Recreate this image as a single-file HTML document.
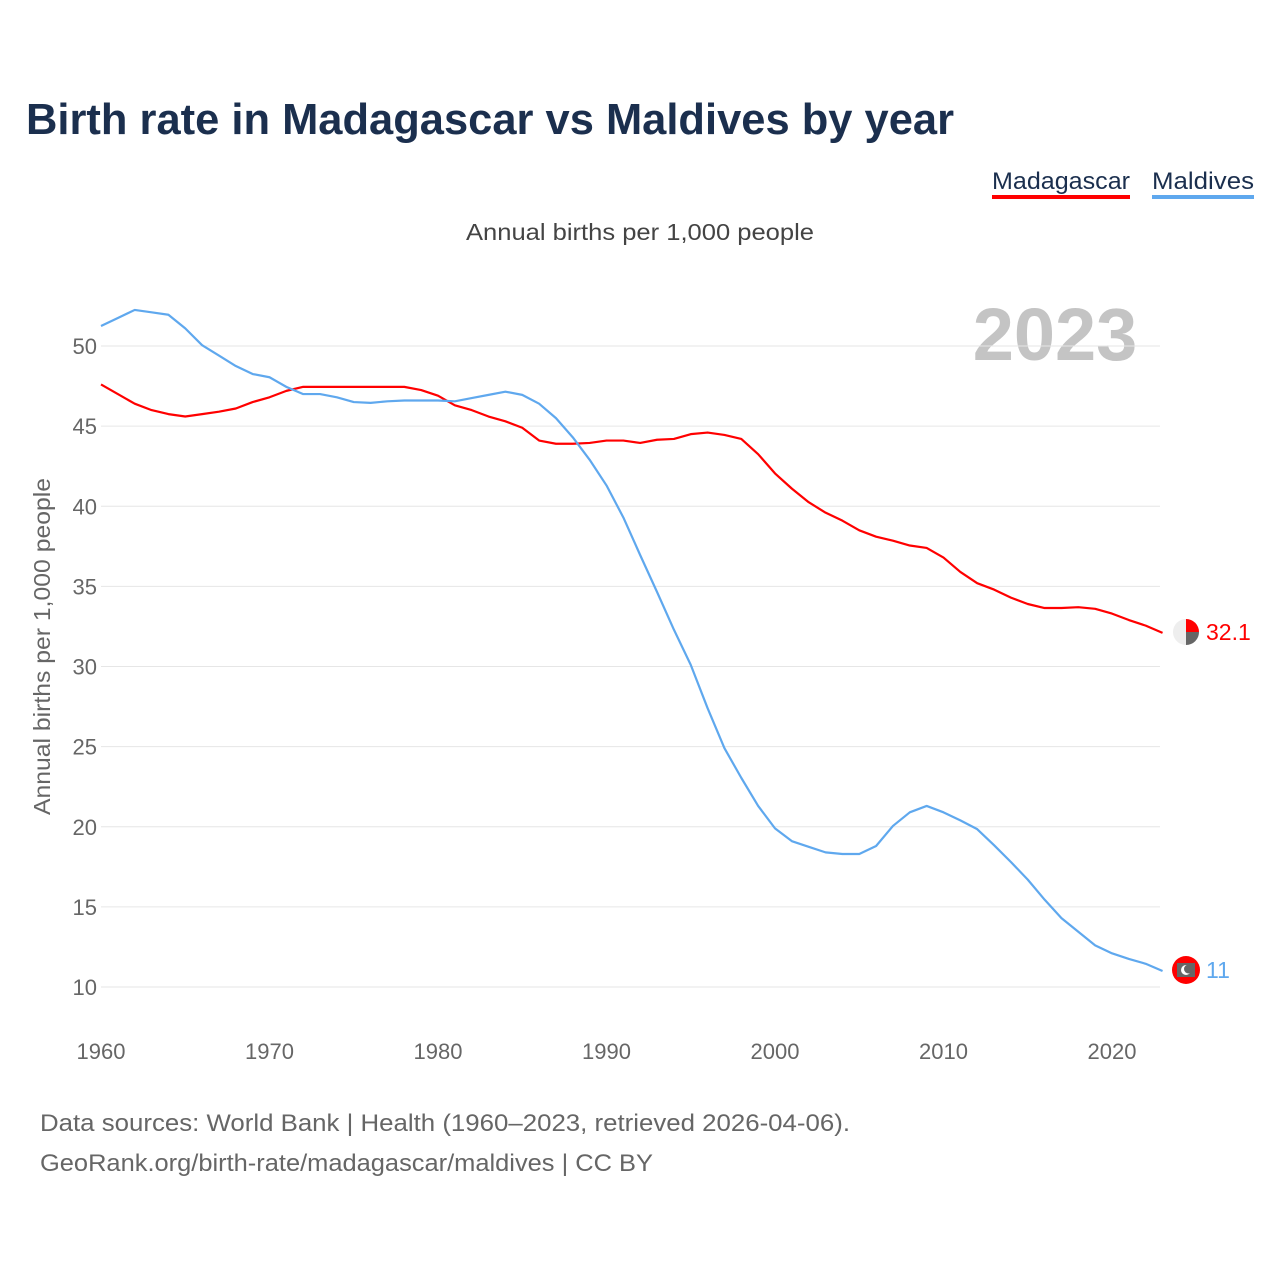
<!DOCTYPE html>
<html><head><meta charset="utf-8"><style>
body{margin:0;background:#fff;font-family:"Liberation Sans",sans-serif}
svg text{font-family:"Liberation Sans",sans-serif}
</style></head><body>
<svg id="chart" width="1280" height="1280" viewBox="0 0 1280 1280">
<text x="26" y="134" font-size="44" font-weight="bold" fill="#1b2f4e" textLength="928" lengthAdjust="spacingAndGlyphs">Birth rate in Madagascar vs Maldives by year</text>
<g><text x="992" y="189" font-size="24" fill="#1b2f4e" textLength="138" lengthAdjust="spacingAndGlyphs">Madagascar</text><rect x="992" y="195" width="138" height="4" fill="#ff0000"/></g>
<g><text x="1152" y="189" font-size="24" fill="#1b2f4e" textLength="102" lengthAdjust="spacingAndGlyphs">Maldives</text><rect x="1152" y="195" width="102" height="4" fill="#5fa8ee"/></g>
<text x="466" y="240" font-size="23" fill="#444" textLength="348" lengthAdjust="spacingAndGlyphs">Annual births per 1,000 people</text>
<text x="1055" y="360" font-size="74" font-weight="bold" fill="#c4c4c4" text-anchor="middle">2023</text>
<text transform="translate(50,815) rotate(-90)" font-size="23" fill="#666" textLength="337" lengthAdjust="spacingAndGlyphs">Annual births per 1,000 people</text>
<g id="grid"></g><g id="xt"></g><g id="lines"></g>
<g>
<circle cx="1186" cy="632" r="13" fill="#eee"/>
<path d="M1186 619 A13 13 0 0 1 1199 632 L1186 632Z" fill="#f00"/>
<path d="M1186 645 A13 13 0 0 0 1199 632 L1186 632Z" fill="#666"/>
<text x="1206" y="640" font-size="23" fill="#f00">32.1</text></g>
<g>
<circle cx="1186" cy="970" r="14" fill="#f00"/>
<rect x="1177" y="963" width="18" height="14" fill="#666"/>
<circle cx="1186" cy="970" r="5" fill="#fff"/><circle cx="1188.5" cy="969" r="4.5" fill="#666"/>
<text x="1206" y="978" font-size="23" fill="#5fa8ee">11</text></g>
<text x="40" y="1131" font-size="24" fill="#666" textLength="810" lengthAdjust="spacingAndGlyphs">Data sources: World Bank | Health (1960–2023, retrieved 2026-04-06).</text>
<text x="40" y="1171" font-size="24" fill="#666" textLength="613" lengthAdjust="spacingAndGlyphs">GeoRank.org/birth-rate/madagascar/maldives | CC BY</text>
</svg>
<script>
const years=[];for(let y=1960;y<=2023;y++)years.push(y);
const madagascar=[47.6,47.0,46.4,46.0,45.75,45.6,45.75,45.9,46.1,46.5,46.8,47.2,47.45,47.45,47.45,47.45,47.45,47.45,47.45,47.25,46.9,46.3,46.0,45.6,45.3,44.9,44.1,43.9,43.9,43.95,44.1,44.1,43.95,44.15,44.2,44.5,44.6,44.45,44.2,43.25,42.05,41.1,40.25,39.6,39.1,38.5,38.1,37.85,37.55,37.4,36.8,35.9,35.2,34.8,34.3,33.9,33.65,33.65,33.7,33.6,33.3,32.9,32.55,32.1];
const maldives=[51.25,51.75,52.25,52.1,51.95,51.1,50.05,49.4,48.75,48.25,48.05,47.45,47.0,47.0,46.8,46.5,46.45,46.55,46.6,46.6,46.6,46.55,46.75,46.95,47.15,46.95,46.4,45.5,44.3,42.9,41.3,39.3,36.95,34.65,32.3,30.1,27.4,24.9,23.05,21.3,19.9,19.1,18.75,18.4,18.3,18.3,18.8,20.05,20.9,21.3,20.9,20.4,19.85,18.85,17.8,16.7,15.45,14.3,13.45,12.6,12.1,11.75,11.45,11.0];
const yTicks=[10,15,20,25,30,35,40,45,50];
const xTicks=[1960,1970,1980,1990,2000,2010,2020];
const NS="http://www.w3.org/2000/svg";
const X=y=>101+(y-1960)*16.85, Y=v=>987-(v-10)*16.025;
function mk(t,a,p){const e=document.createElementNS(NS,t);for(const k in a)e.setAttribute(k,a[k]);p.appendChild(e);return e;}
const g=document.getElementById('grid');
yTicks.forEach(v=>{
 const l=mk('line',{x1:101,x2:1160,y1:Y(v),y2:Y(v),stroke:'#e6e6e6','stroke-width':1},g);
 
 
 const t=mk('text',{x:97,y:Y(v)+8,'font-size':22,fill:'#666','text-anchor':'end'},g);t.textContent=v;
 
 
});
const xt=document.getElementById('xt');
xTicks.forEach(v=>{
 const t=mk('text',{x:X(v),y:1059,'font-size':22,fill:'#666','text-anchor':'middle'},xt);t.textContent=v;
 
 
});
const L=document.getElementById('lines');
[[madagascar,'#ff0000','madagascar-line'],[maldives,'#5fa8ee','maldives-line']].forEach(([d,c,n])=>{
 const p=mk('polyline',{points:d.map((v,i)=>X(years[i])+','+Y(v)).join(' '),fill:'none',stroke:c,'stroke-width':2.2,'stroke-linejoin':'round'},L);
 
 
});
</script>
</body></html>
